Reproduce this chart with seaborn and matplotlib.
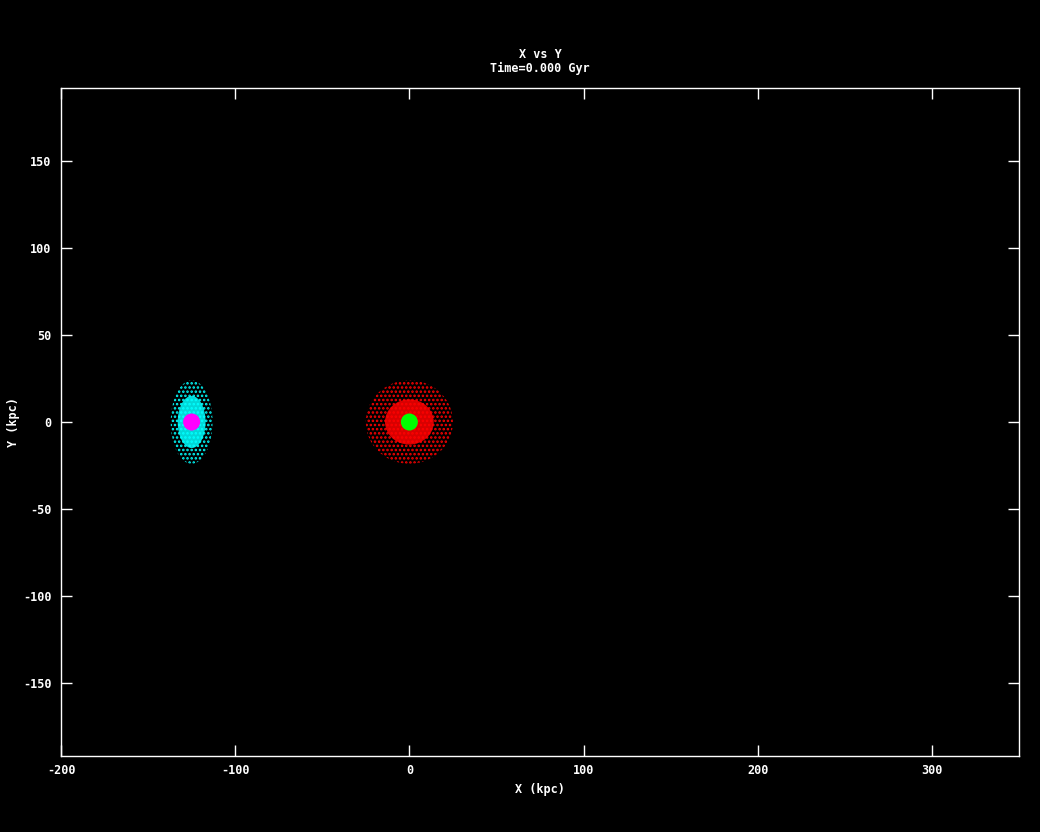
import matplotlib
matplotlib.use("Agg")
import matplotlib.pyplot as plt
from matplotlib.patches import Ellipse
import seaborn as sns
import pandas as pd

# ---- data (kpc) ----
component = ["halo B", "core B", "halo A", "core A"]
center_x = [-125.0, -125.0, 0.0, 0.0]
center_y = [0.0, 0.0, 0.0, 0.0]
# sparse outer extent (half widths)
outer_rx = [12.0, 4.5, 25.0, 4.5]
outer_ry = [24.0, 4.5, 24.0, 4.5]
# dense inner extent (half widths)
inner_rx = [8.0, 4.0, 14.0, 4.0]
inner_ry = [15.0, 4.0, 13.0, 4.0]
colors = ["#00ffff", "#ff00ff", "#ff0000", "#00ff00"]

x_ticks = [-200, -100, 0, 100, 200, 300]
y_ticks = [-150, -100, -50, 0, 50, 100, 150]
x_lim = (-200, 350)
y_lim = (-192, 192)

df = pd.DataFrame({"component": component, "x": center_x, "y": center_y,
                   "orx": outer_rx, "ory": outer_ry,
                   "irx": inner_rx, "iry": inner_ry, "color": colors})

sns.set_style("dark", {"axes.facecolor": "black", "figure.facecolor": "black",
                       "axes.edgecolor": "white", "grid.color": "black"})
plt.rcParams["font.family"] = ["DejaVu Sans Mono", "DejaVu Sans"]
plt.rcParams["hatch.linewidth"] = 1.2
plt.rcParams["axes.unicode_minus"] = False

fig = plt.figure(figsize=(10.4, 8.32), dpi=100, facecolor="black")
ax = fig.add_axes([61 / 1040, 1 - 756 / 832, (1019 - 61) / 1040, (756 - 88) / 832])
ax.set_facecolor("black")

for _, r in df.iterrows():
    if r["component"].startswith("halo"):
        ax.add_patch(Ellipse((r["x"], r["y"]), 2 * r["orx"], 2 * r["ory"],
                             facecolor="none", edgecolor=r["color"], hatch="....",
                             linewidth=0, zorder=2))
        ax.add_patch(Ellipse((r["x"], r["y"]), 2 * r["irx"], 2 * r["iry"],
                             facecolor=r["color"], edgecolor="none", alpha=0.85,
                             zorder=3))

cores = df[df["component"].str.startswith("core")]
sns.scatterplot(data=cores, x="x", y="y", hue="component",
                palette=dict(zip(cores["component"], cores["color"])),
                s=150, linewidth=0, marker="o", legend=False, ax=ax, zorder=4)

ax.set_xlim(*x_lim)
ax.set_ylim(*y_lim)
ax.set_xticks(x_ticks)
ax.set_yticks(y_ticks)
ax.grid(False)
for s in ax.spines.values():
    s.set_color("white")
    s.set_linewidth(1)
    s.set_visible(True)
ax.tick_params(axis="both", direction="in", length=8, width=1, color="white",
               labelcolor="white", labelsize=8.5, top=True, right=True,
               bottom=True, left=True)
ax.tick_params(axis="x", pad=6)
ax.tick_params(axis="y", pad=7)
for lab in ax.get_xticklabels() + ax.get_yticklabels():
    lab.set_fontweight("bold")

ax.set_xlabel("")
ax.set_ylabel("")
fig.text(540 / 1040, 1 - 789 / 832, "X (kpc)", color="white", fontsize=8.5,
         fontweight="bold", ha="center", va="center")
fig.text(14 / 1040, 1 - 422 / 832, "Y (kpc)", color="white", fontsize=8.5,
         fontweight="bold", ha="center", va="center", rotation=90)
fig.text(540 / 1040, 1 - 55 / 832, "X vs Y", color="white", fontsize=8.5,
         fontweight="bold", ha="center", va="center")
fig.text(540 / 1040, 1 - 68 / 832, "Time=0.000 Gyr", color="white", fontsize=8.5,
         fontweight="bold", ha="center", va="center")

fig.savefig("out.png", dpi=100, facecolor="black")
